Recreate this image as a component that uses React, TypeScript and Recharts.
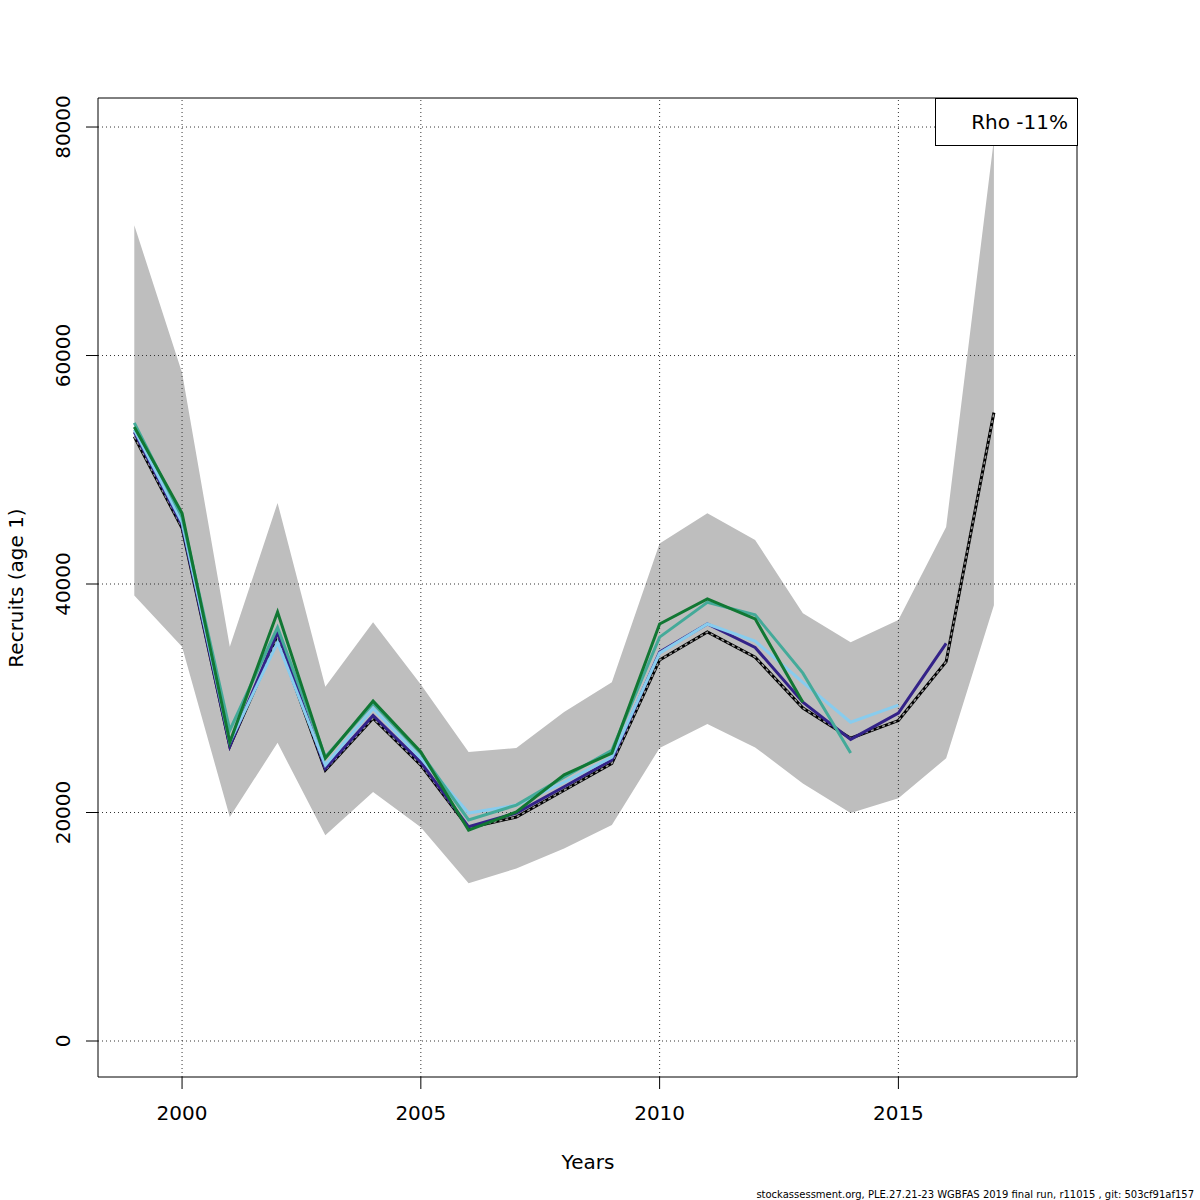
import { ComposedChart, Area, Line, XAxis, YAxis, ReferenceLine, ReferenceArea } from 'recharts'

// recruits (age 1), retrospective peels
const years = [1999, 2000, 2001, 2002, 2003, 2004, 2005, 2006, 2007, 2008, 2009, 2010, 2011, 2012, 2013, 2014, 2015, 2016, 2017]
const baseRun = [52900, 44900, 25800, 35300, 23700, 28250, 24150, 18650, 19600, 21950, 24300, 33350, 35800, 33600, 29150, 26500, 28050, 33200, 55000]
const ciLow   = [39000, 34500, 19600, 26100, 18000, 21800, 18700, 13800, 15100, 16850, 18900, 25650, 27750, 25700, 22550, 19950, 21250, 24750, 38150]
const ciHigh  = [71400, 58500, 34500, 47100, 31000, 36650, 31200, 25300, 25650, 28800, 31400, 43550, 46200, 43850, 37450, 34900, 36850, 45000, 78900]
const peel1   = [53300, 45150, 25800, 35800, 23850, 28500, 24400, 18750, 19950, 22250, 24600, 34050, 36500, 34450, 29650, 26400, 28700, 34800]
const peel2   = [53500, 45400, 26150, 34900, 24150, 29100, 24750, 19950, 20650, 22650, 24850, 33950, 36500, 35000, 31400, 27900, 29400]
const peel3   = [54100, 45850, 27200, 36200, 24850, 29550, 25200, 19350, 20650, 23100, 25450, 35350, 38400, 37300, 32200, 25200]
const peel4   = [53750, 46200, 26150, 37550, 24750, 29750, 25300, 18450, 20050, 23300, 25200, 36500, 38700, 36950, 29650]

const xTicks = [2000, 2005, 2010, 2015]
const yTicks = [0, 20000, 40000, 60000, 80000]

const FONT = '"DejaVu Sans", sans-serif'

const data = years.map((year, i) => ({
  year,
  band: [ciLow[i], ciHigh[i]],
  base: baseRun[i],
  p1: peel1[i],
  p2: peel2[i],
  p3: peel3[i],
  p4: peel4[i],
}))

const XTick = ({ x, payload }: any) => (
  <text x={x} y={1120} textAnchor="middle" fontSize={20} fontFamily={FONT} fill="#000">
    {payload.value}
  </text>
)

const YTick = ({ y, payload }: any) => (
  <text transform={`translate(70,${y}) rotate(-90)`} textAnchor="middle" fontSize={20} fontFamily={FONT} fill="#000">
    {payload.value}
  </text>
)

export default function App() {
  return (
    <div style={{ position: 'absolute', left: 0, top: 0, width: 1200, height: 1200, background: '#fff' }}>
      <ComposedChart width={1200} height={1200} data={data} margin={{ top: 98, right: 123, bottom: 93, left: 68 }}>
        <XAxis
          dataKey="year"
          type="number"
          domain={[1998.24, 2018.74]}
          ticks={xTicks}
          allowDataOverflow
          height={30}
          axisLine={false}
          tickSize={12}
          tickLine={{ stroke: '#000' }}
          tick={<XTick />}
          label={{
            content: () => (
              <text x={588} y={1169} textAnchor="middle" fontSize={20} fontFamily={FONT} fill="#000">
                Years
              </text>
            ),
          }}
        />
        <YAxis
          type="number"
          domain={[-3150, 82540]}
          ticks={yTicks}
          allowDataOverflow
          width={30}
          axisLine={false}
          tickSize={12}
          tickLine={{ stroke: '#000' }}
          tick={<YTick />}
          label={{
            content: () => (
              <text transform="translate(23,588) rotate(-90)" textAnchor="middle" fontSize={20} fontFamily={FONT} fill="#000">
                Recruits (age 1)
              </text>
            ),
          }}
        />
        <Area dataKey="band" fill="#BEBEBE" fillOpacity={1} stroke="none" isAnimationActive={false} />
        {xTicks.map((t) => (
          <ReferenceLine key={'vx' + t} x={t} stroke="#333" strokeDasharray="1 3" zIndex={200} />
        ))}
        {yTicks.map((t) => (
          <ReferenceLine key={'hy' + t} y={t} stroke="#333" strokeDasharray="1 3" zIndex={200} />
        ))}
        <Line dataKey="base" stroke="#000" strokeWidth={3} dot={false} isAnimationActive={false} />
        <Line dataKey="base" stroke="#9a9a9a" strokeWidth={1.5} strokeDasharray="3 3" dot={false} isAnimationActive={false} />
        <Line dataKey="p1" stroke="#332288" strokeWidth={3} dot={false} isAnimationActive={false} />
        <Line dataKey="p2" stroke="#88CCEE" strokeWidth={3} dot={false} isAnimationActive={false} />
        <Line dataKey="p3" stroke="#44AA99" strokeWidth={3} dot={false} isAnimationActive={false} />
        <Line dataKey="p4" stroke="#117733" strokeWidth={3} dot={false} isAnimationActive={false} />
        <ReferenceArea x1={1998.24} x2={2018.74} y1={-3150} y2={82540} fill="none" stroke="#000" strokeWidth={1} zIndex={900} />
      </ComposedChart>
      <div
        style={{
          position: 'absolute',
          left: 935,
          top: 98,
          boxSizing: 'border-box',
          width: 143,
          height: 48,
          background: '#fff',
          border: '1px solid #000',
          fontFamily: FONT,
          fontSize: 20,
          lineHeight: '46px',
          textAlign: 'right',
          paddingRight: 9,
          color: '#000',
        }}
      >
        Rho -11%
      </div>
      <svg width={1200} height={1200} style={{ position: 'absolute', left: 0, top: 0, pointerEvents: 'none' }}>
        <text x={1194} y={1198} textAnchor="end" fontSize={10} fontFamily={FONT} fill="#000">
          stockassessment.org, PLE.27.21-23  WGBFAS  2019  final  run, r11015 , git: 503cf91af157
        </text>
      </svg>
    </div>
  )
}
